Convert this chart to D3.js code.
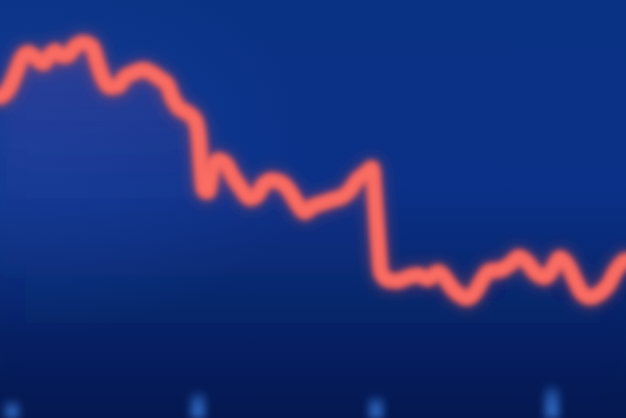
<!DOCTYPE html>
<html><head><meta charset="utf-8">
<script src="https://cdn.jsdelivr.net/npm/d3@7"></script>
<style>html,body{margin:0;padding:0;background:#0a2a78;overflow:hidden}</style>
</head><body>
<svg id="chart" width="626" height="418"></svg>
<script>
// time index (trading step) and price values
const days = [0,8,15,22,28,36,43,50,55,62,68,75,83,92,97,103,110,118,125,133,143,152,160,167,172,178,186,195,199,201,204,208,212,218,225,233,241,250,257,264,272,282,290,297,305,313,322,332,342,350,357,365,372,375,378,381,388,398,408,418,428,438,445,452,460,467,475,482,490,500,510,519,527,535,545,552,560,567,575,582,590,600,608,615,622,626];
const prices = [76.8,78.5,82.1,86.1,87.3,86.1,84.9,86.8,87.8,86.6,86.8,88.8,89.7,88.8,85.2,81.3,79.2,79.4,81.6,82.5,83.3,82.5,81.1,79.9,76.8,74.4,73.2,71.3,66.5,60.5,54.5,54.1,58.9,61.7,61.0,57.7,55.0,52.6,53.3,56.0,56.9,56.2,54.1,51.4,49.3,50.7,51.4,52.2,52.9,54.5,56.9,58.4,59.8,52.2,42.6,34.9,33.0,32.8,33.7,34.2,33.3,34.9,33.5,31.1,29.4,28.7,30.1,33.0,35.2,35.4,36.8,38.5,37.3,34.9,33.7,35.4,38.3,36.8,33.0,29.9,28.9,29.9,31.8,34.9,37.1,37.8];
// faint volume bars glimpsed at the bottom
const volDays = [12,198,376,552];
const volumes = [4,6,5,7.5];

const W = 626, H = 418;
const svg = d3.select("#chart");
const x = d3.scaleLinear().domain([0,626]).range([0,W]);
const y = d3.scaleLinear().domain([0,100]).range([H,0]);
const yv = d3.scaleLinear().domain([0,10]).range([H,H-45]);

const defs = svg.append("defs");
const bg = defs.append("linearGradient").attr("id","bg").attr("x1",0).attr("y1",0).attr("x2",0).attr("y2",1);
bg.append("stop").attr("offset","0%").attr("stop-color","#0a3284");
bg.append("stop").attr("offset","45%").attr("stop-color","#0a3087");
bg.append("stop").attr("offset","72%").attr("stop-color","#07256a");
bg.append("stop").attr("offset","100%").attr("stop-color","#04174f");
const side = defs.append("radialGradient").attr("id","side").attr("cx","0.05").attr("cy","0.35").attr("r","0.45");
side.append("stop").attr("offset","0%").attr("stop-color","#1a48a8").attr("stop-opacity",0.5);
side.append("stop").attr("offset","100%").attr("stop-color","#1a48a8").attr("stop-opacity",0);
const ar = defs.append("linearGradient").attr("id","ar").attr("x1",0).attr("y1",0).attr("x2",0).attr("y2",1);
ar.append("stop").attr("offset","0%").attr("stop-color","#6a4aa8").attr("stop-opacity",0.35);
ar.append("stop").attr("offset","45%").attr("stop-color","#3a3c98").attr("stop-opacity",0.1);
ar.append("stop").attr("offset","100%").attr("stop-color","#1a2a80").attr("stop-opacity",0);
const vb = defs.append("linearGradient").attr("id","vb").attr("x1",0).attr("y1",0).attr("x2",0).attr("y2",1);
vb.append("stop").attr("offset","0%").attr("stop-color","#2f6cc8").attr("stop-opacity",0);
vb.append("stop").attr("offset","35%").attr("stop-color","#2f6cc8").attr("stop-opacity",0.7);
vb.append("stop").attr("offset","100%").attr("stop-color","#3a7ad8").attr("stop-opacity",0.9);

const f1 = defs.append("filter").attr("id","blur").attr("x","-10%").attr("y","-10%").attr("width","120%").attr("height","120%");
f1.append("feGaussianBlur").attr("stdDeviation",3);
const f2 = defs.append("filter").attr("id","glow").attr("x","-10%").attr("y","-10%").attr("width","120%").attr("height","120%");
f2.append("feGaussianBlur").attr("stdDeviation",7);
const f3 = defs.append("filter").attr("id","soft").attr("x","-20%").attr("y","-20%").attr("width","140%").attr("height","140%");
f3.append("feGaussianBlur").attr("stdDeviation",10);
const f4 = defs.append("filter").attr("id","vblur").attr("x","-100%").attr("y","-50%").attr("width","300%").attr("height","200%");
f4.append("feGaussianBlur").attr("stdDeviation",4);

svg.append("rect").attr("width",W).attr("height",H).attr("fill","url(#bg)");
svg.append("rect").attr("width",W).attr("height",H).attr("fill","url(#side)");

const pts = days.map((d,i)=>[d,prices[i]]);
const area = d3.area().x(d=>x(d[0])).y0(H).y1(d=>y(d[1])).curve(d3.curveMonotoneX);
const line = d3.line().x(d=>x(d[0])).y(d=>y(d[1])).curve(d3.curveMonotoneX);

svg.append("path").datum(pts).attr("d",area).attr("fill","url(#ar)").attr("filter","url(#soft)");

svg.selectAll("rect.vol").data(volDays).join("rect").attr("class","vol")
  .attr("x",d=>x(d)-7).attr("width",14)
  .attr("y",(d,i)=>yv(volumes[i])).attr("height",(d,i)=>H-yv(volumes[i]))
  .attr("fill","url(#vb)").attr("filter","url(#vblur)");

svg.append("path").datum(pts).attr("d",line).attr("fill","none")
  .attr("stroke","#d84a52").attr("stroke-opacity",0.4).attr("stroke-width",22)
  .attr("stroke-linejoin","round").attr("stroke-linecap","round").attr("filter","url(#glow)");
svg.append("path").datum(pts).attr("d",line).attr("fill","none")
  .attr("stroke","#ee5e5c").attr("stroke-width",15)
  .attr("stroke-linejoin","round").attr("stroke-linecap","round").attr("filter","url(#blur)");
svg.append("path").datum(pts).attr("d",line).attr("fill","none")
  .attr("stroke","#fb6e64").attr("stroke-width",8)
  .attr("stroke-linejoin","round").attr("stroke-linecap","round").attr("filter","url(#blur)");
</script>
</body></html>
